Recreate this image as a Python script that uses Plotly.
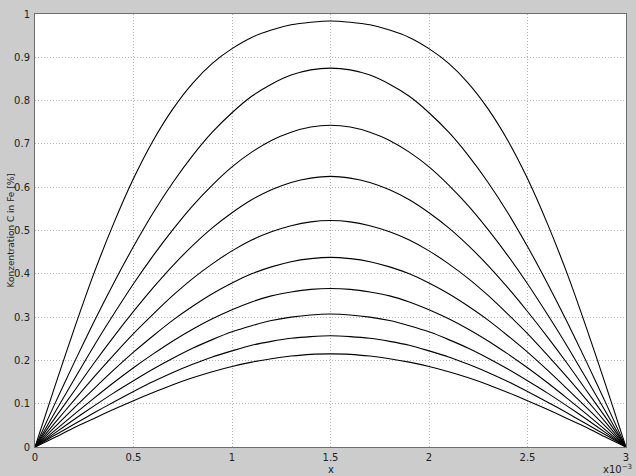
import plotly.graph_objects as go

# x positions in units of 1e-3
x_vals = [0.0, 0.1, 0.2, 0.3, 0.4, 0.5, 0.6, 0.7, 0.8, 0.9, 1.0, 1.1, 1.2, 1.3, 1.4, 1.5,
          1.6, 1.7, 1.8, 1.9, 2.0, 2.1, 2.2, 2.3, 2.4, 2.5, 2.6, 2.7, 2.8, 2.9, 3.0]

c1 = [0, 0.139, 0.274, 0.402, 0.517, 0.620, 0.708, 0.781, 0.840, 0.886, 0.920, 0.946, 0.963, 0.975, 0.981, 0.984,
      0.981, 0.975, 0.963, 0.946, 0.920, 0.886, 0.840, 0.781, 0.708, 0.620, 0.517, 0.402, 0.274, 0.139, 0]
c2 = [0, 0.099, 0.196, 0.290, 0.379, 0.463, 0.541, 0.611, 0.673, 0.727, 0.772, 0.810, 0.838, 0.859, 0.871, 0.875,
      0.871, 0.859, 0.838, 0.810, 0.772, 0.727, 0.673, 0.611, 0.541, 0.463, 0.379, 0.290, 0.196, 0.099, 0]
c3 = [0, 0.079, 0.157, 0.234, 0.307, 0.377, 0.442, 0.502, 0.557, 0.605, 0.647, 0.681, 0.708, 0.727, 0.739, 0.743,
      0.739, 0.727, 0.708, 0.681, 0.647, 0.605, 0.557, 0.502, 0.442, 0.377, 0.307, 0.234, 0.157, 0.079, 0]
c4 = [0, 0.066, 0.130, 0.194, 0.255, 0.313, 0.368, 0.419, 0.465, 0.506, 0.541, 0.571, 0.594, 0.611, 0.621, 0.625,
      0.621, 0.611, 0.594, 0.571, 0.541, 0.506, 0.465, 0.419, 0.368, 0.313, 0.255, 0.194, 0.130, 0.066, 0]
c5 = [0, 0.055, 0.109, 0.162, 0.213, 0.262, 0.307, 0.350, 0.389, 0.423, 0.453, 0.478, 0.497, 0.511, 0.520, 0.523,
      0.520, 0.511, 0.497, 0.478, 0.453, 0.423, 0.389, 0.350, 0.307, 0.262, 0.213, 0.162, 0.109, 0.055, 0]
c6 = [0, 0.046, 0.091, 0.135, 0.178, 0.219, 0.257, 0.293, 0.325, 0.354, 0.379, 0.400, 0.416, 0.428, 0.435, 0.438,
      0.435, 0.428, 0.416, 0.400, 0.379, 0.354, 0.325, 0.293, 0.257, 0.219, 0.178, 0.135, 0.091, 0.046, 0]
c7 = [0, 0.038, 0.076, 0.113, 0.149, 0.183, 0.215, 0.245, 0.272, 0.296, 0.317, 0.335, 0.349, 0.358, 0.364, 0.366,
      0.364, 0.358, 0.349, 0.335, 0.317, 0.296, 0.272, 0.245, 0.215, 0.183, 0.149, 0.113, 0.076, 0.038, 0]
c8 = [0, 0.032, 0.064, 0.095, 0.125, 0.153, 0.180, 0.205, 0.228, 0.248, 0.266, 0.280, 0.292, 0.300, 0.305, 0.307,
      0.305, 0.300, 0.292, 0.280, 0.266, 0.248, 0.228, 0.205, 0.180, 0.153, 0.125, 0.095, 0.064, 0.032, 0]
c9 = [0, 0.027, 0.053, 0.079, 0.104, 0.128, 0.151, 0.172, 0.191, 0.208, 0.222, 0.235, 0.244, 0.251, 0.255, 0.257,
      0.255, 0.251, 0.244, 0.235, 0.222, 0.208, 0.191, 0.172, 0.151, 0.128, 0.104, 0.079, 0.053, 0.027, 0]
c10 = [0, 0.022, 0.045, 0.066, 0.087, 0.107, 0.126, 0.144, 0.160, 0.174, 0.186, 0.196, 0.204, 0.210, 0.214, 0.215,
       0.214, 0.210, 0.204, 0.196, 0.186, 0.174, 0.160, 0.144, 0.126, 0.107, 0.087, 0.066, 0.045, 0.022, 0]

curves = [c1, c2, c3, c4, c5, c6, c7, c8, c9, c10]

x_tickvals = [0, 0.5, 1, 1.5, 2, 2.5, 3]
x_ticktext = ["0", "0.5", "1", "1.5", "2", "2.5", "3"]
y_tickvals = [0, 0.1, 0.2, 0.3, 0.4, 0.5, 0.6, 0.7, 0.8, 0.9, 1]
y_ticktext = ["0", "0.1", "0.2", "0.3", "0.4", "0.5", "0.6", "0.7", "0.8", "0.9", "1"]

fig = go.Figure()
for c in curves:
    fig.add_trace(go.Scatter(x=x_vals, y=c, mode="lines",
                             line=dict(color="black", width=1.1, shape="spline", smoothing=0.8),
                             showlegend=False, hoverinfo="skip", cliponaxis=False))

axis_common = dict(showgrid=True, gridcolor="#b4b4b4", griddash="1px,2px", gridwidth=1,
                   showline=True, linecolor="#6e6e6e", linewidth=1, mirror=True, automargin=False,
                   zeroline=False, ticks="", tickfont=dict(family="DejaVu Sans", size=10, color="#222"))

fig.update_layout(
    width=636, height=476,
    paper_bgcolor="#cccccc", plot_bgcolor="white",
    margin=dict(l=35, r=10, t=14, b=29, autoexpand=False),
    xaxis=dict(range=[0, 3], tickvals=x_tickvals, ticktext=x_ticktext, ticklabelstandoff=1, **axis_common),
    yaxis=dict(range=[0, 1], tickvals=y_tickvals, ticktext=y_ticktext, ticklabelstandoff=2, **axis_common),
    annotations=[
        dict(text="x", xref="paper", yref="paper", x=0.5, y=-0.052, showarrow=False,
             xanchor="center", yanchor="middle", font=dict(family="DejaVu Sans", size=10, color="#222")),
        dict(text="x10<sup>−3</sup>", xref="paper", yref="paper", x=0.958, y=-0.05, showarrow=False,
             xanchor="left", yanchor="middle", font=dict(family="DejaVu Sans", size=10, color="#222")),
        dict(text="Konzentration C in Fe [%]", xref="paper", yref="paper", x=-0.0423, y=0.5,
             textangle=-90, showarrow=False, xanchor="center", yanchor="middle",
             font=dict(family="DejaVu Sans", size=9, color="#222")),
    ],
)

fig.write_html("out.html", config={"displayModeBar": False},
               post_script="document.body.style.margin='0px';document.body.style.padding='0px';")
